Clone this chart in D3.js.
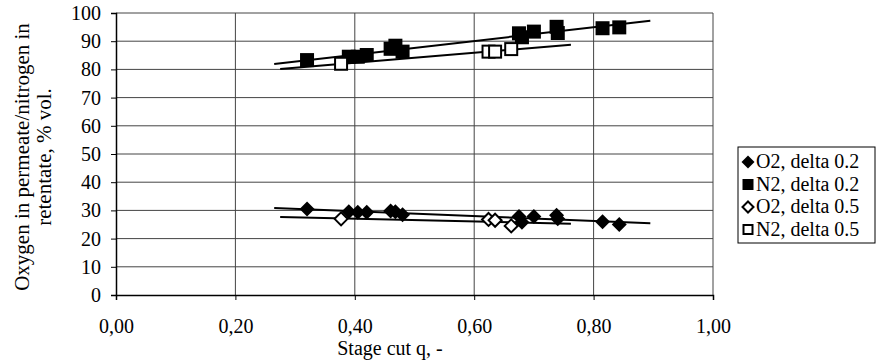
<!DOCTYPE html>
<html>
<head>
<meta charset="utf-8">
<script src="https://cdn.jsdelivr.net/npm/d3@7"></script>
<style>
  body { margin: 0; background: #fff; }
  text { font-family: "Liberation Serif", "Times New Roman", serif; fill: #000; }
</style>
</head>
<body>
<div id="chart"></div>
<script>
// stage cut values, delta 0.2 runs
let q02 = [0.32, 0.39, 0.405, 0.42, 0.46, 0.468, 0.48, 0.675, 0.68, 0.70, 0.738, 0.74, 0.815, 0.843];
let o2_02 = [30.5, 29.5, 29.3, 29.3, 29.8, 29.5, 28.5, 27.8, 25.8, 27.8, 28.3, 27.0, 26.0, 25.0];
let n2_02 = [83.3, 84.5, 84.5, 85.1, 87.3, 88.4, 86.3, 92.8, 91.4, 93.4, 95.1, 92.9, 94.6, 94.9];
// delta 0.5 runs
let q05 = [0.377, 0.624, 0.635, 0.662];
let o2_05 = [27.0, 26.8, 26.5, 24.5];
let n2_05 = [82.0, 86.3, 86.3, 87.2];
// trendline extents (forecast range)
let trend02 = [0.265, 0.895];
let trend05 = [0.275, 0.762];

let xTicks = [0, 0.2, 0.4, 0.6, 0.8, 1.0];
let yTicks = [0, 10, 20, 30, 40, 50, 60, 70, 80, 90, 100];
let legendLabels = ["O2, delta 0.2", "N2, delta 0.2", "O2, delta 0.5", "N2, delta 0.5"];

let series = [
  { q: q02, v: o2_02, shape: "diamond", filled: true, trend: trend02 },
  { q: q02, v: n2_02, shape: "square", filled: true, trend: trend02 },
  { q: q05, v: o2_05, shape: "diamond", filled: false, trend: trend05 },
  { q: q05, v: n2_05, shape: "square", filled: false, trend: trend05 }
];

let W = 880, H = 362;
let margin = { top: 13, right: 167, bottom: 67, left: 116 };
let width = W - margin.left - margin.right,
  height = H - margin.top - margin.bottom;
let fs = "20px";

let svg = d3.select("#chart").append("svg").attr("width", W).attr("height", H);
let g = svg.append("g").attr("transform", "translate(" + margin.left + "," + margin.top + ")");

let x = d3.scaleLinear().domain([0, 1]).range([0, width]);
let y = d3.scaleLinear().domain([0, 100]).range([height, 0]);
let fmt = d => d.toFixed(2).replace(".", ",");

// gridlines
g.selectAll(".hgrid").data(yTicks.filter(d => d > 0)).enter().append("line")
  .attr("x1", 0).attr("x2", width)
  .attr("y1", d => y(d)).attr("y2", d => y(d))
  .attr("stroke", "#444").attr("stroke-width", 1);
g.selectAll(".vgrid").data(xTicks.filter(d => d > 0)).enter().append("line")
  .attr("y1", 0).attr("y2", height)
  .attr("x1", d => x(d)).attr("x2", d => x(d))
  .attr("stroke", "#444").attr("stroke-width", 1);

// axes
let xAxis = g.append("g").attr("transform", "translate(0," + height + ")")
  .call(d3.axisBottom(x).tickValues(xTicks).tickFormat(fmt).tickSize(5).tickPadding(19));
let yAxis = g.append("g")
  .call(d3.axisLeft(y).tickValues(yTicks).tickSize(5).tickPadding(10));
[xAxis, yAxis].forEach(a => {
  a.attr("font-family", null).attr("font-size", null);
  a.select(".domain").attr("stroke", "#000").attr("stroke-width", 1.5);
  a.selectAll(".tick line").attr("stroke", "#000");
  a.selectAll("text").style("font-size", fs).attr("fill", "#000");
});

// trendlines (least squares fit)
function fit(qs, vs) {
  let mx = d3.mean(qs), my = d3.mean(vs);
  let sxy = d3.sum(qs, (d, i) => (d - mx) * (vs[i] - my));
  let sxx = d3.sum(qs, d => (d - mx) * (d - mx));
  let b = sxy / sxx;
  return { a: my - b * mx, b: b };
}
series.forEach(s => {
  let f = fit(s.q, s.v);
  g.append("line")
    .attr("x1", x(s.trend[0])).attr("y1", y(f.a + f.b * s.trend[0]))
    .attr("x2", x(s.trend[1])).attr("y2", y(f.a + f.b * s.trend[1]))
    .attr("stroke", "#000").attr("stroke-width", 2);
});

function marker(sel, s, size) {
  if (s.shape === "square") {
    let r = s.filled ? size / 2 : size / 2 - 1;
    sel.append("rect").attr("x", -r).attr("y", -r).attr("width", 2 * r).attr("height", 2 * r)
      .attr("fill", s.filled ? "#000" : "#fff")
      .attr("stroke", "#000").attr("stroke-width", s.filled ? 0 : 2);
  } else {
    let r = s.filled ? size / 2 + 1 : size / 2;
    sel.append("path").attr("d", "M0," + (-r) + "L" + r + ",0L0," + r + "L" + (-r) + ",0Z")
      .attr("fill", s.filled ? "#000" : "#fff")
      .attr("stroke", "#000").attr("stroke-width", s.filled ? 0 : 2);
  }
}

series.forEach(s => {
  s.q.forEach((d, i) => {
    let m = g.append("g").attr("transform", "translate(" + x(d) + "," + y(s.v[i]) + ")");
    marker(m, s, s.shape === "square" ? 14 : 13);
  });
});

// axis titles
svg.append("text").attr("x", 390).attr("y", 355)
  .attr("text-anchor", "middle").style("font-size", fs).text("Stage cut q, -");
let yt = svg.append("text").attr("transform", "translate(29,157) rotate(-90)")
  .attr("text-anchor", "middle").style("font-size", "21px");
yt.append("tspan").attr("x", 0).attr("y", 0).text("Oxygen in permeate/nitrogen in");
yt.append("tspan").attr("x", 0).attr("y", 22).text("retentate, % vol.");

// legend
let lg = svg.append("g").attr("transform", "translate(738,147)");
lg.append("rect").attr("width", 137).attr("height", 96)
  .attr("fill", "#fff").attr("stroke", "#000").attr("stroke-width", 1);
legendLabels.forEach((t, i) => {
  let row = lg.append("g").attr("transform", "translate(10," + (15 + i * 22.5) + ")");
  marker(row, series[i], 11);
  row.append("text").attr("x", 8).attr("y", 6).style("font-size", fs).text(t);
});
</script>
</body>
</html>
